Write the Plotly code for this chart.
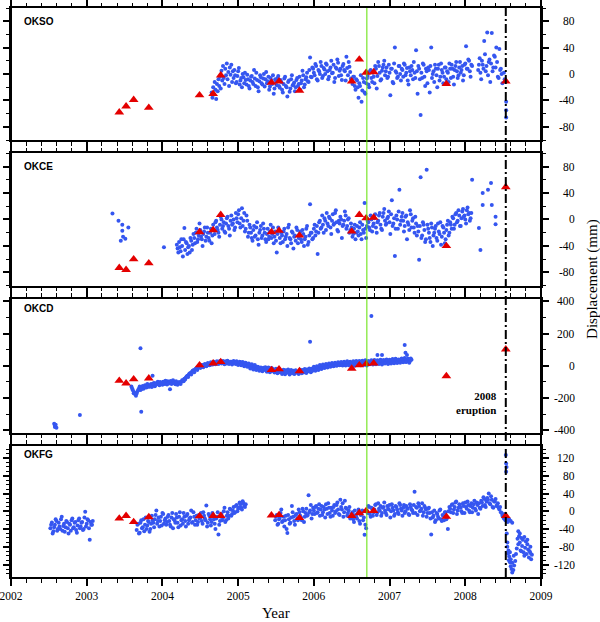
import plotly.graph_objects as go

# ---------------- data ----------------
# campaign GPS epochs (red triangles), shared by all stations
tri_t = [2003.43, 2003.52, 2003.62, 2003.82, 2004.49, 2004.67, 2004.77, 2005.44,
         2005.54, 2005.81, 2006.50, 2006.60, 2006.69, 2006.79, 2007.75, 2008.535]
okso_tri = [-58, -49, -39, -51, -32, -30, -2, -13, -11, -25, -11, 22, 2, 3, -15, -11]
okce_tri = [-73, -76, -60, -66, -19, -16, 7, -19, -17, -24, -18, 7, 2, 3, -40, 49]
okcd_tri = [-92, -108, -83, -77, 4, 16, 24, -25, -21, -32, -17, 4, 12, 16, -63, 103]
okfg_tri = [-16, -10, -24, -13, -11, -10, -10, -9, -8, -15, -10, -4, 1, 1, -12, -10]

# ---- OKSO continuous GPS (two interleaved readings of the cloud) ----
okso_t = [
    2004.65, 2004.66, 2004.67, 2004.68, 2004.69, 2004.70, 2004.71, 2004.72, 2004.73, 2004.74,
    2004.75, 2004.76, 2004.77, 2004.78, 2004.79, 2004.80, 2004.81, 2004.82, 2004.83, 2004.84,
    2004.85, 2004.86, 2004.87, 2004.88, 2004.89, 2004.90, 2004.91, 2004.92, 2004.93, 2004.94,
    2004.95, 2004.97, 2004.99, 2005.01, 2005.03, 2005.05, 2005.07, 2005.09, 2005.11, 2005.13,
    2005.15, 2005.17, 2005.19, 2005.21, 2005.23, 2005.25, 2005.27, 2005.29, 2005.31, 2005.33,
    2005.35, 2005.37, 2005.39, 2005.41, 2005.43, 2005.45, 2005.47, 2005.49, 2005.51, 2005.53,
    2005.55, 2005.57, 2005.59, 2005.61, 2005.63, 2005.65, 2005.67, 2005.69, 2005.71, 2005.73,
    2005.75, 2005.77, 2005.79, 2005.81, 2005.83, 2005.85, 2005.87, 2005.89, 2005.91, 2005.93,
    2005.95, 2005.97, 2005.99, 2006.01, 2006.03, 2006.05, 2006.07, 2006.09, 2006.11, 2006.13,
    2006.15, 2006.17, 2006.19, 2006.21, 2006.23, 2006.25, 2006.27, 2006.29, 2006.31, 2006.33,
    2006.35, 2006.37, 2006.39, 2006.41, 2006.43, 2006.45, 2006.47, 2006.49, 2006.51, 2006.53,
    2006.55, 2006.57, 2006.59, 2006.61, 2006.63, 2006.65, 2006.67, 2006.69, 2006.71, 2006.73,
    2006.75, 2006.77, 2006.79, 2006.81, 2006.83, 2006.85, 2006.87, 2006.89, 2006.91, 2006.93,
    2006.95, 2006.97, 2006.99, 2007.01, 2007.03, 2007.05, 2007.07, 2007.09, 2007.11, 2007.13,
    2007.15, 2007.17, 2007.19, 2007.21, 2007.23, 2007.25, 2007.27, 2007.29, 2007.31, 2007.33,
    2007.35, 2007.37, 2007.39, 2007.41, 2007.43, 2007.45, 2007.47, 2007.49, 2007.51, 2007.53,
    2007.55, 2007.57, 2007.59, 2007.61, 2007.63, 2007.65, 2007.67, 2007.69, 2007.71, 2007.73,
    2007.75, 2007.77, 2007.79, 2007.81, 2007.83, 2007.85, 2007.87, 2007.89, 2007.91, 2007.93,
    2007.95, 2007.97, 2007.99, 2008.01, 2008.03, 2008.05, 2008.07, 2008.09, 2008.17, 2008.19,
    2008.21, 2008.23, 2008.25, 2008.27, 2008.29, 2008.31, 2008.33, 2008.35, 2008.37, 2008.39,
    2008.41, 2008.43, 2008.45, 2008.47, 2008.49, 2008.51, 2008.52, 2008.54, 2008.54, 2008.54]
okso_v = [
    -28, -36, -20, -31, -12, -24, -38, -15, -26, -8,
    -18, -4, -22, 5, -10, 12, -6, -15, 8, -2,
    16, -8, 3, -18, 10, -1, 14, -12, 4, -6,
    6, -14, -3, 9, -10, -20, -5, 2, -16, -8,
    -22, -4, -12, 6, -18, -9, -26, -2, -14, -7,
    -19, 3, -11, -24, -6, -15, -30, -8, -17, -3,
    -21, -12, -28, -7, -18, -34, -10, -22, -2, -16,
    -26, -9, -18, -4, -14, 5, -20, -8, 2, -12,
    25, -5, 8, -2, 12, -10, 4, 18, -6, 9,
    0, 14, -8, 6, 20, 2, -12, 10, 22, -3,
    8, -9, 15, 4, 26, -2, 11, -7, -15, -4,
    -24, -10, -36, -18, -42, -6, -28, -14, -3, -20,
    6, -12, -4, 12, -22, 18, 2, -8, 10, 20,
    4, -6, 14, -32, 8, -14, 40, 2, -4, 12,
    -10, 6, 16, -2, 9, -16, 4, 12, -8, 2,
    36, -30, 8, -62, -6, 14, -18, 4, 10, -28,
    40, 0, -12, 8, -20, 14, -4, 6, -14, 10,
    -8, 2, 16, -6, 8, -16, 12, 4, -2, 18,
    6, -10, 14, 42, 8, 20, -4, 12, 6, 24,
    -8, 14, 50, 4, 63, 18, -12, 62, 10, 26,
    40, -4, 38, 8, -14, 2, -8, -42, -55, -66]
okso_t2 = [
    2004.96, 2004.98, 2005.00, 2005.02, 2005.04, 2005.06, 2005.08, 2005.10, 2005.12, 2005.14,
    2005.16, 2005.18, 2005.20, 2005.22, 2005.24, 2005.26, 2005.28, 2005.30, 2005.32, 2005.34,
    2005.36, 2005.38, 2005.40, 2005.42, 2005.44, 2005.46, 2005.48, 2005.50, 2005.52, 2005.54,
    2005.56, 2005.58, 2005.60, 2005.62, 2005.64, 2005.66, 2005.68, 2005.70, 2005.72, 2005.74,
    2005.76, 2005.78, 2005.80, 2005.82, 2005.84, 2005.86, 2005.88, 2005.90, 2005.92, 2005.94,
    2005.96, 2005.98, 2006.00, 2006.02, 2006.04, 2006.06, 2006.08, 2006.10, 2006.12, 2006.14,
    2006.16, 2006.18, 2006.20, 2006.22, 2006.24, 2006.26, 2006.28, 2006.30, 2006.32, 2006.34,
    2006.36, 2006.38, 2006.40, 2006.42, 2006.44, 2006.46, 2006.48, 2006.50, 2006.52, 2006.54,
    2006.56, 2006.58, 2006.60, 2006.62, 2006.64, 2006.66, 2006.68, 2006.70, 2006.72, 2006.74,
    2006.76, 2006.78, 2006.80, 2006.82, 2006.84, 2006.86, 2006.88, 2006.90, 2006.92, 2006.94,
    2006.96, 2006.98, 2007.00, 2007.02, 2007.04, 2007.06, 2007.08, 2007.10, 2007.12, 2007.14,
    2007.16, 2007.18, 2007.20, 2007.22, 2007.24, 2007.26, 2007.28, 2007.30, 2007.32, 2007.34,
    2007.36, 2007.38, 2007.40, 2007.42, 2007.44, 2007.46, 2007.48, 2007.50, 2007.52, 2007.54,
    2007.56, 2007.58, 2007.60, 2007.62, 2007.64, 2007.66, 2007.68, 2007.70, 2007.72, 2007.74,
    2007.76, 2007.78, 2007.80, 2007.82, 2007.84, 2007.86, 2007.88, 2007.90, 2007.92, 2007.94,
    2007.96, 2007.98, 2008.00, 2008.02, 2008.04, 2008.06, 2008.08,
    2008.18, 2008.20, 2008.22, 2008.24, 2008.26, 2008.28, 2008.30, 2008.32,
    2008.34, 2008.36, 2008.38, 2008.40, 2008.42, 2008.44, 2008.46, 2008.48]
okso_v2 = [
    -2, -12, 4, -16, -6, 0, -14, -9, -1, -18,
    -10, -3, -15, -7, 2, -20, -11, -5, -16, 0,
    -8, -14, -4, -19, -10, -2, -22, -12, -6, -18,
    -9, -24, -15, -4, -20, -12, -27, -8, -17, -13,
    -20, -6, -15, -24, -10, -2, -16, -5, -11, 6,
    -4, 10, 2, 15, -8, 6, 0, 12, -3, 7,
    16, 4, -4, 10, 1, 14, -6, 8, 17, 5,
    -2, 12, 6, -10, 9, 18, 3, -8, -4, -18,
    -8, -20, -14, -2, -25, -12, -30, -7, -16, 4,
    -6, 2, -14, 8, -3, 12, -10, 5, 14, -2,
    10, -4, 2, 8, -12, 16, 4, -6, 12, 0,
    8, -4, 14, 2, -10, 10, -2, 6, 18, -6,
    4, 12, -8, 2, 16, -4, 8, -14, 6, 12,
    -6, 4, 14, -2, 8, -10, 16, 2, -4, 10,
    4, -12, 8, 14, -4, 6, 18, -6, 10, 2,
    12, -2, 16, 8, 22, 4, 14,
    14, 2, 20, 8, 30, 12, -2, 22,
    16, 4, 28, 10, 18, -6, 6, 0]

# ---- OKCE ----
okce_t = [
    2003.34, 2003.42, 2003.45, 2003.47, 2003.47, 2003.48, 2003.51, 2003.55, 2004.02,
    2004.19, 2004.21, 2004.23, 2004.25, 2004.27, 2004.29, 2004.31, 2004.33, 2004.35, 2004.37,
    2004.39, 2004.41, 2004.43, 2004.45, 2004.47, 2004.49, 2004.51, 2004.53, 2004.55, 2004.57,
    2004.59, 2004.61, 2004.63, 2004.65, 2004.67, 2004.69, 2004.71, 2004.73, 2004.75, 2004.77,
    2004.79, 2004.81, 2004.83, 2004.85, 2004.87, 2004.89, 2004.91, 2004.93, 2004.95, 2004.97,
    2004.99, 2005.01, 2005.03, 2005.05, 2005.07, 2005.09, 2005.11, 2005.13, 2005.15, 2005.17,
    2005.19, 2005.21, 2005.23, 2005.25, 2005.27, 2005.29, 2005.31, 2005.33, 2005.35, 2005.37,
    2005.39, 2005.41, 2005.43, 2005.45, 2005.47, 2005.49, 2005.51, 2005.53, 2005.55, 2005.57,
    2005.59, 2005.61, 2005.63, 2005.65, 2005.67, 2005.69, 2005.71, 2005.73, 2005.75, 2005.77,
    2005.79, 2005.81, 2005.83, 2005.85, 2005.87, 2005.89, 2005.91, 2005.93, 2005.95, 2005.97,
    2005.99, 2006.01, 2006.03, 2006.05, 2006.07, 2006.09, 2006.11, 2006.13, 2006.15, 2006.17,
    2006.19, 2006.21, 2006.23, 2006.25, 2006.27, 2006.29, 2006.31, 2006.33, 2006.35, 2006.37,
    2006.39, 2006.41, 2006.43, 2006.45, 2006.47, 2006.49, 2006.51, 2006.53, 2006.55, 2006.57,
    2006.59, 2006.61, 2006.63, 2006.65, 2006.67, 2006.69, 2006.71, 2006.73, 2006.75, 2006.77,
    2006.79, 2006.81, 2006.83, 2006.85, 2006.87, 2006.89, 2006.91, 2006.93, 2006.95, 2006.97,
    2006.99, 2007.01, 2007.03, 2007.05, 2007.07, 2007.09, 2007.11, 2007.13, 2007.15, 2007.17,
    2007.19, 2007.21, 2007.23, 2007.25, 2007.27, 2007.29, 2007.31, 2007.33, 2007.35, 2007.37,
    2007.39, 2007.41, 2007.43, 2007.45, 2007.47, 2007.49, 2007.51, 2007.53, 2007.55, 2007.57,
    2007.59, 2007.61, 2007.63, 2007.65, 2007.67, 2007.69, 2007.71, 2007.73, 2007.75, 2007.77,
    2007.79, 2007.81, 2007.83, 2007.85, 2007.87, 2007.89, 2007.91, 2007.93, 2007.95, 2007.97,
    2007.99, 2008.01, 2008.03, 2008.05, 2008.07,
    2008.09, 2008.18, 2008.20, 2008.23, 2008.23, 2008.30, 2008.34, 2008.35, 2008.40, 2008.40]
okce_v = [
    9, -2, -32, -8, -17, -26, -29, -12, -42,
    -38, -50, -42, -30, -56, -13, -34, -52, -40, -28,
    -46, -22, -36, -14, -30, -6, -26, -40, -18, -32,
    -12, -28, -20, -36, -8, -22, -2, -16, -26, 4,
    -14, -4, -20, 2, -10, -24, 6, -6, -16, 10,
    -4, 14, -12, 17, -2, -18, 6, -26, -8, -20,
    -32, -10, -24, -4, -38, -16, -28, -6, -20, -34,
    -14, -26, -8, -22, -36, -18, -50, -12, -28, -20,
    -34, -14, -26, -40, -8, -30, -18, -44, -24, -12,
    -36, -22, -30, -16, -40, -26, -10, -34, 23, -20,
    -28, -8, -18, -52, -4, -14, 6, -20, -2, 10,
    -10, 2, -22, 8, -6, 14, -16, -2, 4, -28,
    -8, 12, -14, 0, -20, -6, -26, -14, -30, -10,
    -24, -4, -30, -16, 25, -28, -2, -12, 6, -18,
    -6, 8, -20, -2, 10, -14, 4, 16, -8, 2,
    12, -22, 29, -6, -55, 6, -14, 45, -2, 10,
    -18, 4, -30, -8, 14, -12, 2, -20, -6, -10,
    -61, 64, -24, -8, -34, 75, -14, -28, -6, -40,
    -20, -10, -32, -18, -4, -26, -12, -36, -16, -2,
    -20, -8, 4, -14, 8, -4, 14, -10, 2, 16,
    6, -6, 18, 10, 2,
    60, -13, -46, 40, 22, 45, 55, 22, 4, -7]
okce_t2 = [
    2004.20, 2004.22, 2004.24, 2004.26, 2004.28, 2004.30, 2004.32, 2004.34, 2004.36, 2004.38,
    2004.40, 2004.42, 2004.44, 2004.46, 2004.48, 2004.50, 2004.52, 2004.54, 2004.56, 2004.58,
    2004.60, 2004.62, 2004.64, 2004.66, 2004.68, 2004.70, 2004.72, 2004.74, 2004.76, 2004.78,
    2004.80, 2004.82, 2004.84, 2004.86, 2004.88, 2004.90, 2004.92, 2004.94, 2004.96, 2004.98,
    2005.00, 2005.02, 2005.04, 2005.06, 2005.08, 2005.10, 2005.12, 2005.14, 2005.16, 2005.18,
    2005.20, 2005.22, 2005.24, 2005.26, 2005.28, 2005.30, 2005.32, 2005.34, 2005.36, 2005.38,
    2005.40, 2005.42, 2005.44, 2005.46, 2005.48, 2005.50, 2005.52, 2005.54, 2005.56, 2005.58,
    2005.60, 2005.62, 2005.64, 2005.66, 2005.68, 2005.70, 2005.72, 2005.74, 2005.76, 2005.78,
    2005.80, 2005.82, 2005.84, 2005.86, 2005.88, 2005.90, 2005.92, 2005.94, 2005.96, 2005.98,
    2006.00, 2006.02, 2006.04, 2006.06, 2006.08, 2006.10, 2006.12, 2006.14, 2006.16, 2006.18,
    2006.20, 2006.22, 2006.24, 2006.26, 2006.28, 2006.30, 2006.32, 2006.34, 2006.36, 2006.38,
    2006.40, 2006.42, 2006.44, 2006.46, 2006.48, 2006.50, 2006.52, 2006.54, 2006.56, 2006.58,
    2006.60, 2006.62, 2006.64, 2006.66, 2006.68, 2006.70, 2006.72, 2006.74, 2006.76, 2006.78,
    2006.80, 2006.82, 2006.84, 2006.86, 2006.88, 2006.90, 2006.92, 2006.94, 2006.96, 2006.98,
    2007.00, 2007.02, 2007.04, 2007.06, 2007.08, 2007.10, 2007.12, 2007.14, 2007.16, 2007.18,
    2007.20, 2007.22, 2007.24, 2007.26, 2007.28, 2007.30, 2007.32, 2007.34, 2007.36, 2007.38,
    2007.40, 2007.42, 2007.44, 2007.46, 2007.48, 2007.50, 2007.52, 2007.54, 2007.56, 2007.58,
    2007.60, 2007.62, 2007.64, 2007.66, 2007.68, 2007.70, 2007.72, 2007.74, 2007.76, 2007.78,
    2007.80, 2007.82, 2007.84, 2007.86, 2007.88, 2007.90, 2007.92, 2007.94, 2007.96, 2007.98,
    2008.00, 2008.02, 2008.04, 2008.06, 2008.08]
okce_v2 = [
    -44, -34, -48, -40, -30, -46, -36, -42, -50, -32,
    -38, -28, -20, -34, -24, -16, -30, -22, -12, -26,
    -20, -32, -14, -24, -16, -4, -12, -20, -8, 0,
    -10, -18, -6, 4, -14, -2, -8, 0, -12, 2,
    8, -6, 2, -10, 10, -14, -2, -20, -12, -28,
    -16, -26, -12, -30, -20, -10, -24, -14, -30, -22,
    -30, -18, -28, -12, -26, -32, -22, -16, -36, -24,
    -18, -30, -22, -12, -28, -36, -20, -26, -32, -16,
    -28, -18, -34, -22, -30, -14, -38, -24, -20, -30,
    -14, -24, -10, -20, -2, -12, -8, 2, -16, -6,
    4, -12, -2, -8, 10, -4, -18, -6, 0, -10,
    -2, 6, -10, 2, -16, -12, -22, -8, -20, -18,
    -12, -22, -8, -20, -14, -10, -4, -16, 0, -10,
    2, -12, -4, 6, -8, -16, 10, -2, -6, 4,
    -4, 8, -10, 2, -14, 0, 12, -8, 4, -2,
    -10, 6, -4, -16, 8, -2, -12, 4, -24, -18,
    -10, -28, -4, -16, -30, -8, -20, -34, -12, -24,
    -14, -28, -6, -22, -38, -10, -20, -30, -8, -24,
    -4, -14, 2, -8, 10, -2, 6, -10, 12, 4,
    0, 14, 8, -2, 10]

# ---- OKCD ----
okcd_t = [
    2003.59, 2003.61, 2003.63, 2003.65, 2003.67, 2003.69, 2003.71, 2003.73, 2003.75, 2003.77,
    2003.79, 2003.81, 2003.83, 2003.85, 2003.87, 2003.89, 2003.91, 2003.93, 2003.95, 2003.97,
    2003.99, 2004.01, 2004.03, 2004.05, 2004.07, 2004.09, 2004.11, 2004.13, 2004.15, 2004.17,
    2004.19, 2004.21, 2004.23, 2004.25, 2004.27, 2004.29, 2004.31, 2004.33, 2004.35, 2004.37,
    2004.39, 2004.41, 2004.43, 2004.45, 2004.47, 2004.49, 2004.51, 2004.53, 2004.55, 2004.57,
    2004.59, 2004.61, 2004.63, 2004.65, 2004.67, 2004.69, 2004.71, 2004.73, 2004.75, 2004.77,
    2004.79, 2004.81, 2004.83, 2004.85, 2004.87, 2004.89, 2004.91, 2004.93, 2004.95, 2004.97,
    2004.99, 2005.01, 2005.03, 2005.05, 2005.07, 2005.09, 2005.11, 2005.13, 2005.15, 2005.17,
    2005.19, 2005.21, 2005.23, 2005.25, 2005.27, 2005.29, 2005.31, 2005.33, 2005.35, 2005.37,
    2005.39, 2005.41, 2005.43, 2005.45, 2005.47, 2005.49, 2005.51, 2005.53, 2005.55, 2005.57,
    2005.59, 2005.61, 2005.63, 2005.65, 2005.67, 2005.69, 2005.71, 2005.73, 2005.75, 2005.77,
    2005.79, 2005.81, 2005.83, 2005.85, 2005.87, 2005.89, 2005.91, 2005.93, 2005.95, 2005.97,
    2005.99, 2006.01, 2006.03, 2006.05, 2006.07, 2006.09, 2006.11, 2006.13, 2006.15, 2006.17,
    2006.19, 2006.21, 2006.23, 2006.25, 2006.27, 2006.29, 2006.31, 2006.33, 2006.35, 2006.37,
    2006.39, 2006.41, 2006.43, 2006.45, 2006.47, 2006.49, 2006.51, 2006.53, 2006.55, 2006.57,
    2006.59, 2006.61, 2006.63, 2006.65, 2006.67, 2006.69, 2006.71, 2006.73, 2006.75, 2006.77,
    2006.79, 2006.81, 2006.83, 2006.85, 2006.87, 2006.89, 2006.91, 2006.93, 2006.95, 2006.97,
    2006.99, 2007.01, 2007.03, 2007.05, 2007.07, 2007.09, 2007.11, 2007.13, 2007.15, 2007.17,
    2007.19, 2007.21, 2007.23, 2007.25, 2007.27, 2007.29,
    2002.57, 2002.58, 2002.58, 2002.59, 2002.60, 2002.91, 2003.71, 2003.72, 2003.87, 2004.10,
    2005.95, 2006.76, 2006.84, 2006.90, 2007.20, 2007.21, 2007.23]
okcd_v = [
    -128, -152, -167, -186, -158, -140, -150, -132, -142, -120,
    -134, -118, -128, -112, -124, -106, -118, -104, -114, -100,
    -110, -98, -112, -102, -96, -108, -94, -106, -100, -114,
    -104, -110, -106, -98, -90, -80, -72, -62, -52, -44,
    -36, -28, -22, -16, -10, -6, -2, 4, 0, 8,
    2, 12, 6, 16, 10, 20, 14, 22, 16, 24,
    18, 26, 20, 14, 22, 18, 26, 16, 22, 12,
    20, 14, 22, 10, 18, 4, 12, -2, 6, -8,
    2, -14, -4, -18, -10, -22, -14, -26, -18, -30,
    -20, -34, -24, -16, -28, -22, -36, -26, -40, -30,
    -44, -34, -28, -42, -32, -46, -36, -30, -48, -38,
    -42, -30, -36, -26, -40, -30, -22, -34, -26, -18,
    -28, -12, -22, -8, -16, -4, -12, 0, -8, 4,
    -4, 8, 0, 10, 2, 12, 4, 14, 6, 16,
    8, 18, 10, 20, 12, 16, 10, 22, 14, 24,
    8, 20, 12, 26, 16, 22, 10, 24, 18, 28,
    14, 26, 20, 30, 16, 24, 18, 32, 22, 28,
    20, 26, 34, 22, 30, 38, 24, 32, 40, 28,
    36, 26, 34, 42, 30, 38,
    -360, -372, -380, -366, -384, -305, 109, -285, -61, -145,
    150, 310, 68, 68, 130, 82, 68]
okcd_t2 = [
    2003.60, 2003.62, 2003.64, 2003.66, 2003.68, 2003.70, 2003.72, 2003.74, 2003.76, 2003.78,
    2003.80, 2003.82, 2003.84, 2003.86, 2003.88, 2003.90, 2003.92, 2003.94, 2003.96, 2003.98,
    2004.00, 2004.02, 2004.04, 2004.06, 2004.08, 2004.10, 2004.12, 2004.14, 2004.16, 2004.18,
    2004.20, 2004.22, 2004.24, 2004.26, 2004.28, 2004.30, 2004.32, 2004.34, 2004.36, 2004.38,
    2004.40, 2004.42, 2004.44, 2004.46, 2004.48, 2004.50, 2004.52, 2004.54, 2004.56, 2004.58,
    2004.60, 2004.62, 2004.64, 2004.66, 2004.68, 2004.70, 2004.72, 2004.74, 2004.76, 2004.78,
    2004.80, 2004.82, 2004.84, 2004.86, 2004.88, 2004.90, 2004.92, 2004.94, 2004.96, 2004.98,
    2005.00, 2005.02, 2005.04, 2005.06, 2005.08, 2005.10, 2005.12, 2005.14, 2005.16, 2005.18,
    2005.20, 2005.22, 2005.24, 2005.26, 2005.28, 2005.30, 2005.32, 2005.34, 2005.36, 2005.38,
    2005.40, 2005.42, 2005.44, 2005.46, 2005.48, 2005.50, 2005.52, 2005.54, 2005.56, 2005.58,
    2005.60, 2005.62, 2005.64, 2005.66, 2005.68, 2005.70, 2005.72, 2005.74, 2005.76, 2005.78,
    2005.80, 2005.82, 2005.84, 2005.86, 2005.88, 2005.90, 2005.92, 2005.94, 2005.96, 2005.98,
    2006.00, 2006.02, 2006.04, 2006.06, 2006.08, 2006.10, 2006.12, 2006.14, 2006.16, 2006.18,
    2006.20, 2006.22, 2006.24, 2006.26, 2006.28, 2006.30, 2006.32, 2006.34, 2006.36, 2006.38,
    2006.40, 2006.42, 2006.44, 2006.46, 2006.48, 2006.50, 2006.52, 2006.54, 2006.56, 2006.58,
    2006.60, 2006.62, 2006.64, 2006.66, 2006.68, 2006.70, 2006.72, 2006.74, 2006.76, 2006.78,
    2006.80, 2006.82, 2006.84, 2006.86, 2006.88, 2006.90, 2006.92, 2006.94, 2006.96, 2006.98,
    2007.00, 2007.02, 2007.04, 2007.06, 2007.08, 2007.10, 2007.12, 2007.14, 2007.16, 2007.18,
    2007.20, 2007.22, 2007.24, 2007.26, 2007.28]
okcd_v2 = [
    -140, -170, -176, -172, -150, -128, -145, -125, -136, -128,
    -112, -130, -122, -132, -110, -126, -112, -98, -120, -108,
    -118, -104, -92, -116, -110, -98, -112, -90, -108, -96,
    -118, -100, -112, -90, -96, -84, -66, -70, -48, -54,
    -30, -40, -18, -26, -4, -14, 6, -8, 12, -2,
    18, 4, 22, 8, 26, 10, 28, 12, 30, 14,
    30, 10, 28, 32, 12, 26, 8, 30, 14, 28,
    6, 26, 4, 24, -2, 20, -6, 14, -16, 10,
    -22, 6, -26, -6, -30, -10, -34, -12, -8, -36,
    -10, -40, -14, -32, -42, -18, -46, -20, -30, -50,
    -24, -52, -38, -22, -54, -26, -44, -50, -28, -40,
    -50, -24, -46, -40, -20, -44, -28, -16, -40, -30,
    -6, -30, -2, -26, 6, -20, 8, -14, 12, -10,
    14, -6, 18, -2, 20, 0, 22, 4, 24, 2,
    26, 2, 28, 4, 26, 6, 28, 0, 30, 8,
    30, 4, 32, 6, 34, 2, 30, 10, 34, 8,
    36, 10, 34, 12, 38, 8, 36, 14, 40, 12,
    38, 14, 42, 16, 44, 18, 40, 20, 46, 22,
    48, 24, 44, 20, 46]

# ---- OKFG ----
okfg_t = [
    2002.52, 2002.54, 2002.56, 2002.58, 2002.60, 2002.62, 2002.64, 2002.66, 2002.68, 2002.70,
    2002.72, 2002.74, 2002.76, 2002.78, 2002.80, 2002.82, 2002.84, 2002.86, 2002.88, 2002.90,
    2002.92, 2002.94, 2002.96, 2002.98, 2003.00, 2003.02, 2003.04, 2003.06, 2003.08,
    2003.66, 2003.68, 2003.70, 2003.72, 2003.74, 2003.76, 2003.78, 2003.80, 2003.82, 2003.84,
    2003.86, 2003.88, 2003.90, 2003.92, 2003.94, 2003.96, 2003.98, 2004.00, 2004.02, 2004.04,
    2004.06, 2004.08, 2004.10, 2004.12, 2004.14, 2004.16, 2004.18, 2004.20, 2004.22, 2004.24,
    2004.26, 2004.28, 2004.30, 2004.32, 2004.34, 2004.36, 2004.38, 2004.40, 2004.42, 2004.44,
    2004.46, 2004.48, 2004.50, 2004.52, 2004.54, 2004.56, 2004.58, 2004.60, 2004.62, 2004.64,
    2004.66, 2004.68, 2004.70, 2004.72, 2004.74, 2004.76, 2004.78, 2004.80, 2004.82, 2004.84,
    2004.86, 2004.88, 2004.90, 2004.92, 2004.94, 2004.96, 2004.98, 2005.00, 2005.02, 2005.04,
    2005.06, 2005.08, 2005.10,
    2005.49, 2005.51, 2005.53, 2005.55, 2005.57, 2005.59, 2005.61, 2005.63, 2005.65, 2005.67,
    2005.69, 2005.71, 2005.73, 2005.75, 2005.77, 2005.79, 2005.81, 2005.83, 2005.85, 2005.87,
    2005.89, 2005.91, 2005.93, 2005.95, 2005.97, 2005.99, 2006.01, 2006.03, 2006.05, 2006.07,
    2006.09, 2006.11, 2006.13, 2006.15, 2006.17, 2006.19, 2006.21, 2006.23, 2006.25, 2006.27,
    2006.29, 2006.31, 2006.33, 2006.35, 2006.37, 2006.39, 2006.41, 2006.43, 2006.45, 2006.47,
    2006.49, 2006.51, 2006.53, 2006.55, 2006.57, 2006.59, 2006.61, 2006.63, 2006.65, 2006.67,
    2006.69, 2006.71, 2006.73, 2006.75, 2006.77, 2006.79, 2006.81, 2006.83, 2006.85, 2006.87,
    2006.89, 2006.91, 2006.93, 2006.95, 2006.97, 2006.99, 2007.01, 2007.03, 2007.05, 2007.07,
    2007.09, 2007.11, 2007.13, 2007.15, 2007.17, 2007.19, 2007.21, 2007.23, 2007.25, 2007.27,
    2007.29, 2007.31, 2007.33, 2007.35, 2007.37, 2007.39, 2007.41, 2007.43, 2007.45, 2007.47,
    2007.49, 2007.51, 2007.53, 2007.55, 2007.57, 2007.59, 2007.61, 2007.63, 2007.65, 2007.67,
    2007.69, 2007.71, 2007.73, 2007.75, 2007.77, 2007.79, 2007.81, 2007.83, 2007.85, 2007.87,
    2007.89, 2007.91, 2007.93, 2007.95, 2007.97, 2007.99, 2008.01, 2008.03, 2008.05, 2008.07,
    2008.09, 2008.11, 2008.13, 2008.15, 2008.17, 2008.19, 2008.21, 2008.23, 2008.25, 2008.27,
    2008.29, 2008.31, 2008.33, 2008.35, 2008.37, 2008.39, 2008.41, 2008.43, 2008.45, 2008.47,
    2008.49, 2008.51, 2008.52, 2008.53,
    2008.535, 2008.54, 2008.54, 2008.545, 2008.54, 2008.55, 2008.56, 2008.58, 2008.60, 2008.62,
    2008.548, 2008.556, 2008.57, 2008.58, 2008.59, 2008.60, 2008.61, 2008.62, 2008.635, 2008.645,
    2008.555, 2008.565, 2008.575, 2008.59, 2008.60, 2008.62, 2008.64, 2008.66, 2008.67, 2008.68,
    2008.69, 2008.70, 2008.71, 2008.72, 2008.73, 2008.74, 2008.75, 2008.76, 2008.77, 2008.78,
    2008.79, 2008.80, 2008.81, 2008.82, 2008.83, 2008.84, 2008.85, 2008.86, 2008.87, 2008.88,
    2008.70, 2008.72, 2008.74, 2008.78, 2008.82, 2008.86]
okfg_v = [
    -38, -25, -45, -30, -22, -40, -34, -18, -44, -28,
    -36, -24, -50, -30, -20, -38, -26, -42, -32, -16,
    -34, -24, -40, -1, -28, -20, -64, -30, -22,
    -42, -28, -48, -20, -36, -45, -14, -32, -24, -40,
    -10, -26, -18, 2, -22, -34, -12, -4, -28, -16,
    -24, -8, -30, -14, -38, -20, -6, -26, -12, -32,
    -18, -4, -22, -10, -28, -16, 2, -24, -12, -20,
    -30, -8, -14, -22, -2, -16, 13, -26, -10, -32,
    -4, -18, -40, -12, -52, -22, -6, -14, 8, -20,
    -2, -10, 4, -6, 10, -2, 14, 6, 20, 8,
    23, 12, 16,
    -20, -8, -28, -14, 4, -22, -34, -10, -49, -18,
    -26, 12, -12, -30, -6, -20, -2, -14, 6, -24,
    -4, -10, 36, 2, -16, 8, -6, 12, -2, 16,
    4, -8, 10, -14, 6, 18, -4, 8, -10, 14,
    0, 20, -6, 26, 4, -12, 24, 6, -4, 10,
    -14, -2, -24, -8, -16, 4, -28, -6, -20, -53,
    -38, -4, 10, -12, 6, -2, 14, -8, 18, 2,
    -10, 8, 20, -4, 12, 4, -14, 16, 2, -6,
    10, -2, 18, 6, -10, 14, 0, 8, -6, 16,
    4, -4, 44, 10, -8, 12, 2, 18, -2, 8,
    -12, 6, -4, -52, -14, 2, -20, -6, -16, 4,
    -22, -10, -2, -18, -40, 10, -2, 16, 4, 20,
    -6, 8, 14, 0, 18, -4, 10, 22, 2, 12,
    -2, 16, 6, 20, -6, 8, 24, 12, 28, 10,
    30, 40, 16, 26, 8, 22, 12, 18, 4, -2,
    -10, -16, -6, -20,
    127, 108, 89, 100, -14, -20, -24, -18, -22, -26,
    -50, -70, -88, -102, -115, -124, -130, -138, -132, -122,
    -80, -95, -110, -92, -108, -116, -100, -112, -96, -84,
    -62, -74, -56, -70, -88, -60, -78, -64, -92, -58,
    -82, -68, -96, -74, -86, -104, -90, -80, -108, -98,
    -45, -50, -90, -100, -64, -94]
okfg_t2 = [
    2002.53, 2002.55, 2002.57, 2002.59, 2002.61, 2002.63, 2002.65, 2002.67, 2002.69, 2002.71,
    2002.73, 2002.75, 2002.77, 2002.79, 2002.81, 2002.83, 2002.85, 2002.87, 2002.89, 2002.91,
    2002.93, 2002.95, 2002.97, 2002.99, 2003.01, 2003.03, 2003.05, 2003.07,
    2003.67, 2003.69, 2003.71, 2003.73, 2003.75, 2003.77, 2003.79, 2003.81, 2003.83, 2003.85,
    2003.87, 2003.89, 2003.91, 2003.93, 2003.95, 2003.97, 2003.99, 2004.01, 2004.03, 2004.05,
    2004.07, 2004.09, 2004.11, 2004.13, 2004.15, 2004.17, 2004.19, 2004.21, 2004.23, 2004.25,
    2004.27, 2004.29, 2004.31, 2004.33, 2004.35, 2004.37, 2004.39, 2004.41, 2004.43, 2004.45,
    2004.47, 2004.49, 2004.51, 2004.53, 2004.55, 2004.57, 2004.59, 2004.61, 2004.63, 2004.65,
    2004.67, 2004.69, 2004.71, 2004.73, 2004.75, 2004.77, 2004.79, 2004.81, 2004.83, 2004.85,
    2004.87, 2004.89, 2004.91, 2004.93, 2004.95, 2004.97, 2004.99, 2005.01, 2005.03, 2005.05,
    2005.07, 2005.09,
    2005.50, 2005.52, 2005.54, 2005.56, 2005.58, 2005.60, 2005.62, 2005.64, 2005.66, 2005.68,
    2005.70, 2005.72, 2005.74, 2005.76, 2005.78, 2005.80, 2005.82, 2005.84, 2005.86, 2005.88,
    2005.90, 2005.92, 2005.94, 2005.96, 2005.98, 2006.00, 2006.02, 2006.04, 2006.06, 2006.08,
    2006.10, 2006.12, 2006.14, 2006.16, 2006.18, 2006.20, 2006.22, 2006.24, 2006.26, 2006.28,
    2006.30, 2006.32, 2006.34, 2006.36, 2006.38, 2006.40, 2006.42, 2006.44, 2006.46, 2006.48,
    2006.50, 2006.52, 2006.54, 2006.56, 2006.58, 2006.60, 2006.62, 2006.64, 2006.66, 2006.68,
    2006.70, 2006.72, 2006.74, 2006.76, 2006.78, 2006.80, 2006.82, 2006.84, 2006.86, 2006.88,
    2006.90, 2006.92, 2006.94, 2006.96, 2006.98, 2007.00, 2007.02, 2007.04, 2007.06, 2007.08,
    2007.10, 2007.12, 2007.14, 2007.16, 2007.18, 2007.20, 2007.22, 2007.24, 2007.26, 2007.28,
    2007.30, 2007.32, 2007.34, 2007.36, 2007.38, 2007.40, 2007.42, 2007.44, 2007.46, 2007.48,
    2007.50, 2007.52, 2007.54, 2007.56, 2007.58, 2007.60, 2007.62, 2007.64, 2007.66, 2007.68,
    2007.70, 2007.72, 2007.74, 2007.76, 2007.78, 2007.80, 2007.82, 2007.84, 2007.86, 2007.88,
    2007.90, 2007.92, 2007.94, 2007.96, 2007.98, 2008.00, 2008.02, 2008.04, 2008.06, 2008.08,
    2008.10, 2008.12, 2008.14, 2008.16, 2008.18, 2008.20, 2008.22, 2008.24, 2008.26, 2008.28,
    2008.30, 2008.32, 2008.34, 2008.36, 2008.38, 2008.40, 2008.42, 2008.44, 2008.46, 2008.48,
    2008.50, 2008.52]
okfg_v2 = [
    -30, -50, -36, -18, -44, -26, -40, -12, -33, -46,
    -22, -38, -28, -44, -16, -36, -24, -48, -20, -38,
    -26, -42, -14, -34, -18, -38, -24, -30,
    -30, -50, -26, -38, -18, -30, -40, -22, -46, -28,
    -20, -36, -8, -28, -14, -22, -32, -6, -20, -30,
    -12, -22, -34, -4, -18, -26, -14, -36, -2, -20,
    -28, -12, -34, -6, -20, -14, -26, -2, -30, -10,
    -24, -16, -4, -28, -10, -20, -34, -6, -18, -24,
    -8, -28, -16, -2, -30, -12, -20, 0, -24, -10,
    -16, 6, -10, 2, -4, 12, 0, 8, 16, 4,
    18, 10,
    -12, -30, -18, -4, -24, -12, -20, -40, -8, -28,
    -14, -2, -22, -8, -16, 4, -10, -20, 0, -12,
    6, -8, -2, 14, -6, 2, 10, -4, 6, -10,
    12, -2, 4, 16, -6, 8, -12, 2, 10, -4,
    14, 4, -8, 10, 18, -2, 8, -10, 2, -16,
    -6, -18, 2, -12, -4, -22, -8, 2, -14, -30,
    0, 12, -6, 8, -10, 4, 16, -2, 6, 12,
    -4, 10, 2, -8, 6, 14, 0, 8, -10, 12,
    4, -6, 14, 2, 8, -4, 12, 6, -8, 10,
    2, 14, -4, 8, 18, 0, 6, -10, 12, 4,
    -4, 8, -16, -2, -10, -24, -4, -12, 2, -18,
    -8, -20, -2, -14, 0, 6, 14, -4, 10, 22,
    2, 16, 8, -4, 12, 20, 6, 14, -2, 18,
    8, 24, 2, 14, 18, 6, 20, 32, 14, 22,
    26, 18, 34, 10, 22, 28, 14, 8, 10, -4,
    -12, -8]

station_names = ["OKSO", "OKCE", "OKCD", "OKFG"]
okso_ticks = [-80, -40, 0, 40, 80]
okce_ticks = [-80, -40, 0, 40, 80]
okcd_ticks = [-400, -200, 0, 200, 400]
okfg_ticks = [-120, -80, -40, 0, 40, 80, 120]
year_ticks = [2002, 2003, 2004, 2005, 2006, 2007, 2008, 2009]
green_epoch = 2006.70
eruption_epoch = 2008.535

# ---------------- style / layout ----------------
BLUE = "#3556f0"
RED = "#e40000"
SERIF = "Liberation Serif, Times New Roman, serif"
SANS = "Liberation Sans, Arial, sans-serif"

panels = [
    # name, t, v, tri_v, range, dtick, minor, ticks, domain, label_y
    ("OKSO", okso_t + okso_t2, okso_v + okso_v2, okso_tri, [-100, 100], 40, 20, okso_ticks, [0.768, 1.0], 0.9759),
    ("OKCE", okce_t + okce_t2, okce_v + okce_v2, okce_tri, [-100, 100], 40, 20, okce_ticks, [0.512, 0.7446], 0.7210),
    ("OKCD", okcd_t + okcd_t2, okcd_v + okcd_v2, okcd_tri, [-415, 415], 200, 100, okcd_ticks, [0.2536, 0.4886], 0.4722),
    ("OKFG", okfg_t + okfg_t2, okfg_v + okfg_v2, okfg_tri, [-148, 148], 40, 10, okfg_ticks, [0.0, 0.2308], 0.2156),
]

fig = go.Figure()
layout = {}
annotations = []
for i, (name, t, v, tv, rng, dt, mn, tks, dom, ly) in enumerate(panels, start=1):
    xa = "x" if i == 1 else f"x{i}"
    ya = "y" if i == 1 else f"y{i}"
    fig.add_trace(go.Scatter(x=t, y=v, mode="markers", xaxis=xa, yaxis=ya,
                             marker=dict(size=4, color=BLUE, line=dict(width=0)),
                             showlegend=False, hoverinfo="skip"))
    fig.add_trace(go.Scatter(x=tri_t, y=tv, mode="markers", xaxis=xa, yaxis=ya,
                             marker=dict(symbol="triangle-up", size=8.5, color=RED, line=dict(width=0)),
                             showlegend=False, hoverinfo="skip"))
    layout["xaxis" if i == 1 else f"xaxis{i}"] = dict(
        domain=[0, 1], range=[2002, 2009], anchor=ya, tickmode="array", tickvals=year_ticks,
        ticks="outside", ticklen=7, tickwidth=1.5, tickcolor="black", mirror="ticks",
        showline=True, linewidth=2, linecolor="black", showgrid=False, zeroline=False,
        minor=dict(dtick=0.2, tick0=2002, ticks="outside", ticklen=3.5, tickwidth=1.2, tickcolor="black"),
        showticklabels=(i == 4), tickfont=dict(family=SERIF, size=11.5, color="black"),
        ticklabeloverflow="allow", automargin=False, fixedrange=True)
    layout["yaxis" if i == 1 else f"yaxis{i}"] = dict(
        domain=dom, range=rng, anchor=xa, side="right", tick0=0, dtick=dt,
        ticks="outside", ticklen=6, tickwidth=1.5, tickcolor="black", mirror="ticks",
        showline=True, linewidth=2, linecolor="black", showgrid=False, zeroline=False,
        minor=dict(dtick=mn, tick0=0, ticks="outside", ticklen=3, tickwidth=1.2, tickcolor="black"),
        showticklabels=False, automargin=False, fixedrange=True)
    annotations.append(dict(text=name, xref="paper", yref="paper", x=0.0208, y=ly,
                            xanchor="left", yanchor="middle", showarrow=False,
                            font=dict(family=SANS, size=10, color="black", weight="bold")))
    for tk in tks:
        annotations.append(dict(text=str(tk), xref="paper", yref=ya, x=1.0679, y=tk,
                                xanchor="right", yanchor="middle", showarrow=False,
                                font=dict(family=SERIF, size=11.5, color="black")))

annotations.append(dict(text="Year", xref="paper", yref="paper", x=0.5, y=-0.0633,
                        xanchor="center", yanchor="middle", showarrow=False,
                        font=dict(family=SERIF, size=15, color="black")))
annotations.append(dict(text="Displacement (mm)", xref="paper", yref="paper", x=1.096, y=0.5237,
                        xanchor="center", yanchor="middle", textangle=-90, showarrow=False,
                        font=dict(family=SERIF, size=15, color="black")))
annotations.append(dict(text="2008<br>eruption", xref="x3", yref="y3", x=2008.45, y=-230,
                        xanchor="right", yanchor="middle", align="right", showarrow=False,
                        font=dict(family=SERIF, size=11, color="black", weight="bold")))

shapes = [
    dict(type="line", xref="x", yref="paper", x0=green_epoch, x1=green_epoch, y0=0, y1=1,
         line=dict(color="#5fe000", width=1), layer="above"),
    dict(type="line", xref="x", yref="paper", x0=eruption_epoch, x1=eruption_epoch, y0=0, y1=1,
         line=dict(color="black", width=2, dash="9px,3px,2px,3px"), layer="above"),
    dict(type="line", xref="paper", yref="paper", x0=0, x1=0, y0=0, y1=1,
         line=dict(color="black", width=2), layer="above"),
    dict(type="line", xref="paper", yref="paper", x0=1, x1=1, y0=0, y1=1,
         line=dict(color="black", width=2), layer="above"),
]

fig.update_layout(
    width=600, height=622, margin=dict(l=11, r=59, t=8, b=45, autoexpand=False),
    paper_bgcolor="white", plot_bgcolor="white",
    annotations=annotations, shapes=shapes, showlegend=False, **layout)

fig.write_html("out.html", config={"displayModeBar": False},
               post_script="document.body.style.margin='0';")
